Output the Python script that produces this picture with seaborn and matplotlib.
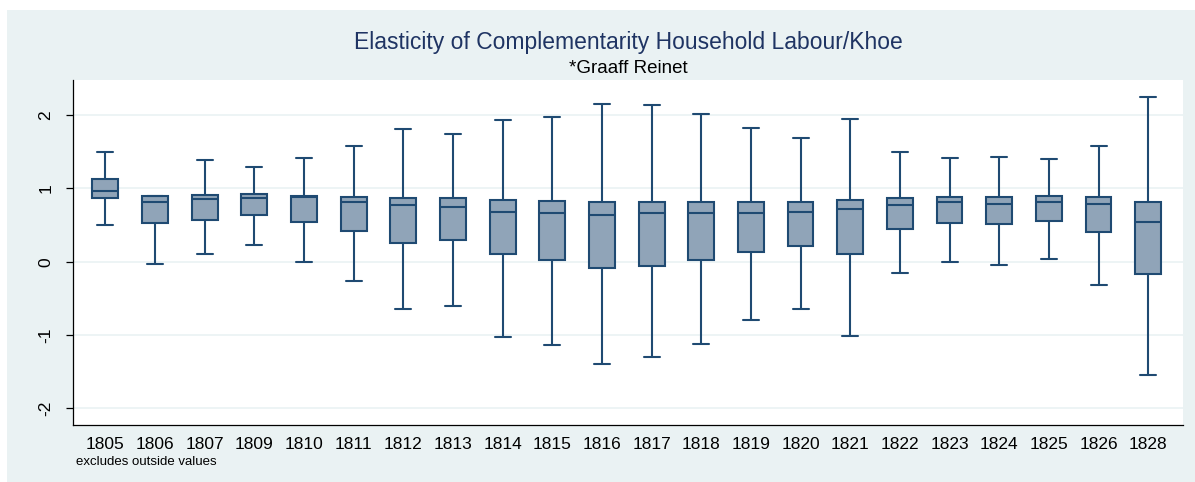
import numpy as np
import pandas as pd
import matplotlib.pyplot as plt
import seaborn as sns
from matplotlib.patches import Rectangle

# Box summaries (lower whisker, Q1, median, Q3, upper whisker)
years = ['1805', '1806', '1807', '1809', '1810', '1811', '1812', '1813', '1814', '1815', '1816',
         '1817', '1818', '1819', '1820', '1821', '1822', '1823', '1824', '1825', '1826', '1828']
lower = [0.50, -0.03, 0.11, 0.23, -0.01, -0.26, -0.64, -0.60, -1.02, -1.13, -1.39,
         -1.30, -1.12, -0.79, -0.64, -1.01, -0.15, 0.00, -0.04, 0.04, -0.32, -1.54]
q1 = [0.87, 0.53, 0.57, 0.64, 0.54, 0.42, 0.25, 0.29, 0.10, 0.03, -0.08,
      -0.06, 0.03, 0.13, 0.22, 0.10, 0.45, 0.53, 0.52, 0.55, 0.40, -0.17]
median = [0.96, 0.82, 0.86, 0.87, 0.88, 0.81, 0.78, 0.74, 0.68, 0.66, 0.64,
          0.66, 0.67, 0.66, 0.68, 0.72, 0.77, 0.82, 0.79, 0.81, 0.79, 0.54]
q3 = [1.13, 0.89, 0.91, 0.92, 0.90, 0.88, 0.87, 0.87, 0.84, 0.83, 0.82,
      0.81, 0.82, 0.81, 0.82, 0.84, 0.87, 0.88, 0.88, 0.89, 0.88, 0.81]
upper = [1.50, 0.89, 1.38, 1.29, 1.42, 1.58, 1.81, 1.74, 1.93, 1.97, 2.15,
         2.13, 2.02, 1.82, 1.69, 1.94, 1.49, 1.42, 1.43, 1.40, 1.58, 2.24]

# five points per year reproduce the summaries exactly with whis=(0, 100)
rows = []
for i, yr in enumerate(years):
    for v in (lower[i], q1[i], median[i], q3[i], upper[i]):
        rows.append({'year': yr, 'value': v})
df = pd.DataFrame(rows)

sns.set_style('white')
plt.rcParams['font.family'] = ['Liberation Sans', 'DejaVu Sans']
plt.rcParams['axes.unicode_minus'] = False

navy = '#1F4A72'
fill = '#90A4B8'
bg = '#EAF2F3'

fig = plt.figure(figsize=(11.95, 4.82), dpi=100, facecolor='white')
fig.patches.append(Rectangle((7 / 1195, 0), 1 - 7 / 1195, 1 - 10 / 482,
                             transform=fig.transFigure, facecolor=bg,
                             edgecolor='none', zorder=-5))
ax = fig.add_axes([73 / 1195, 57 / 482, 1110 / 1195, 345 / 482])
ax.set_zorder(2)
ax.set_facecolor('white')

for y in [-2, -1, 0, 1, 2]:
    ax.axhline(y, color=bg, lw=1.2, zorder=0)

sns.boxplot(data=df, x='year', y='value', order=years, ax=ax,
            whis=(0, 100), width=0.52, color=fill, linecolor=navy,
            linewidth=1.5, fliersize=0, saturation=1, capwidths=0.32)

ax.set_xlim(-0.65, 21.7)
ax.set_ylim(-2.225, 2.477)
ax.set_yticks([-2, -1, 0, 1, 2])
ax.set_xlabel('')
ax.set_ylabel('')

for s in ['top', 'right']:
    ax.spines[s].set_visible(False)
for s in ['left', 'bottom']:
    ax.spines[s].set_color('black')
    ax.spines[s].set_linewidth(0.9)

ax.tick_params(axis='y', left=True, length=5, width=0.9, color='black',
               labelsize=12.5, labelrotation=90, pad=9, labelcolor='black')
ax.tick_params(axis='x', bottom=False, labelsize=12.5, pad=5, labelcolor='black')
for lab in ax.get_yticklabels():
    lab.set_va('center')

fig.text(628 / 1195, 1 - 42 / 482,
         'Elasticity of Complementarity Household Labour/Khoe',
         ha='center', va='center', fontsize=16.5, color='#1F3463')
fig.text(628 / 1195, 1 - 69 / 482, '*Graaff Reinet',
         ha='center', va='center', fontsize=13.5, color='black')
fig.text(76 / 1195, 1 - 462 / 482, 'excludes outside values',
         ha='left', va='center', fontsize=9.5, color='black')

fig.savefig('out.png', dpi=100, facecolor=fig.get_facecolor())
